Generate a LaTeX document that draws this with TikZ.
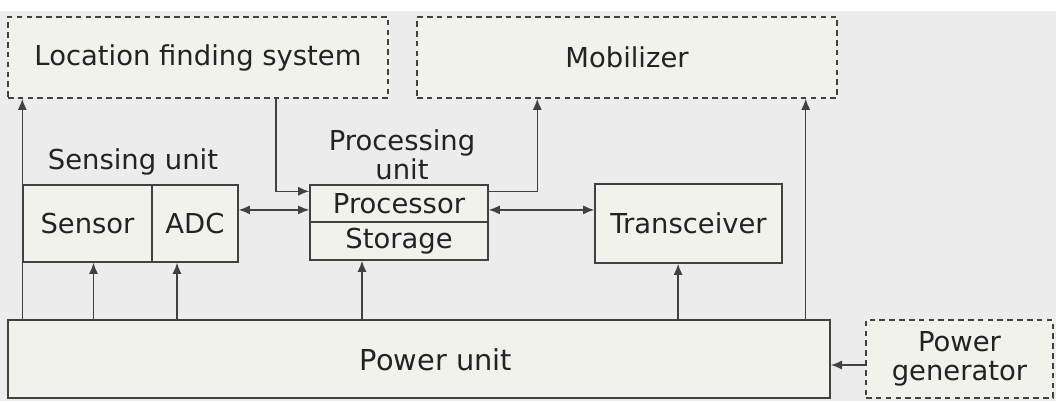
\documentclass[tikz,border=0pt]{standalone}
\usepackage{fontspec}
\setmainfont{DejaVu Sans}
\usetikzlibrary{arrows.meta,positioning}
\definecolor{bggray}{RGB}{236,236,236}
\definecolor{boxfill}{RGB}{242,242,237}
\definecolor{linegray}{RGB}{65,65,65}
\definecolor{textgray}{RGB}{35,35,35}
\begin{document}
\begin{tikzpicture}[
    x=0.025cm, y=-0.025cm,
    font=\fontsize{19.5}{20.5}\selectfont, text=textgray,
    unit/.style={rectangle, draw=linegray, line width=1pt, fill=boxfill, inner sep=0pt, align=center},
    ext/.style={unit, dashed, dash pattern=on 4pt off 3pt},
    arrow/.style={draw=linegray, line width=1pt, -{Latex[length=8pt,width=6.5pt]}},
    both/.style={arrow, {Latex[length=8pt,width=6.5pt]}-{Latex[length=8pt,width=6.5pt]}},
    tag/.style={inner sep=0pt, align=center, font=\fontsize{19.5}{20.5}\selectfont}
]
    % Background
    \fill[bggray] (0,0) rectangle (1056,401);
    \fill[white] (0,0) rectangle (1056,11);
    \useasboundingbox (0,0) rectangle (1056,401);

    % External blocks
    \node [ext, minimum width=9.5cm, minimum height=2.025cm] (loc) at (198,57.5) {Location finding system};
    \node [ext, minimum width=10.5cm, minimum height=2.025cm] (mob) at (627,57.5) {Mobilizer};
    \node [ext, minimum width=4.675cm, minimum height=1.95cm] (gen) at (959.5,359) {Power\\generator};

    % Sensing unit
    \node [unit, minimum width=3.225cm, minimum height=1.925cm] (sensor) at (87.5,223.5) {Sensor};
    \node [unit, minimum width=2.15cm, minimum height=1.925cm] (adc) at (195,223.5) {ADC};
    \node [tag] (senselbl) at (133,162) {Sensing unit};

    % Processing unit
    \node [unit, minimum width=4.45cm, minimum height=0.925cm] (proc) at (399,203.5) {Processor};
    \node [unit, minimum width=4.45cm, minimum height=0.95cm] (stor) at (399,241) {Storage};
    \node [tag] (proclbl) at (402,155) {Processing\\unit};

    % Transceiver and power
    \node [unit, minimum width=4.675cm, minimum height=1.975cm] (trans) at (688.5,223.5) {Transceiver};
    \node [unit, minimum width=20.55cm, minimum height=1.95cm] (power) at (419,359) {};
    \node [tag, font=\fontsize{20.5}{20.5}\selectfont] (powerlbl) at (436,360) {Power unit};

    % Power lines
    \draw [arrow] (power.north -| sensor.west) -- (loc.south -| sensor.west);
    \draw [arrow] ([xshift=0.15cm]power.north -| sensor.south) -- ([xshift=0.15cm]sensor.south);
    \draw [arrow] ([xshift=-0.45cm]power.north -| adc.south) -- ([xshift=-0.45cm]adc.south);
    \draw [arrow] ([xshift=-0.925cm]power.north -| stor.south) -- ([xshift=-0.925cm]stor.south);
    \draw [arrow] ([xshift=-0.26cm]power.north -| trans.south) -- ([xshift=-0.26cm]trans.south);
    \draw [arrow] ([xshift=-0.8cm]power.north -| mob.south east) -- ([xshift=-0.8cm]mob.south east);
    \draw [arrow] ([yshift=-0.15cm]gen.west) -- ([yshift=-0.15cm]gen.west -| power.east);

    % Data lines
    \draw [arrow] ([xshift=1.95cm]loc.south) |- ([yshift=-0.175cm]proc.north west);
    \draw [arrow] ([yshift=-0.175cm]proc.north east) -| ([xshift=3.025cm]mob.south west);
    \draw [both] ([yshift=-0.16cm]proc.west -| adc.east) -- ([yshift=-0.16cm]proc.west);
    \draw [both] ([yshift=-0.16cm]proc.east) -- ([yshift=-0.16cm]proc.east -| trans.west);
\end{tikzpicture}
\end{document}
